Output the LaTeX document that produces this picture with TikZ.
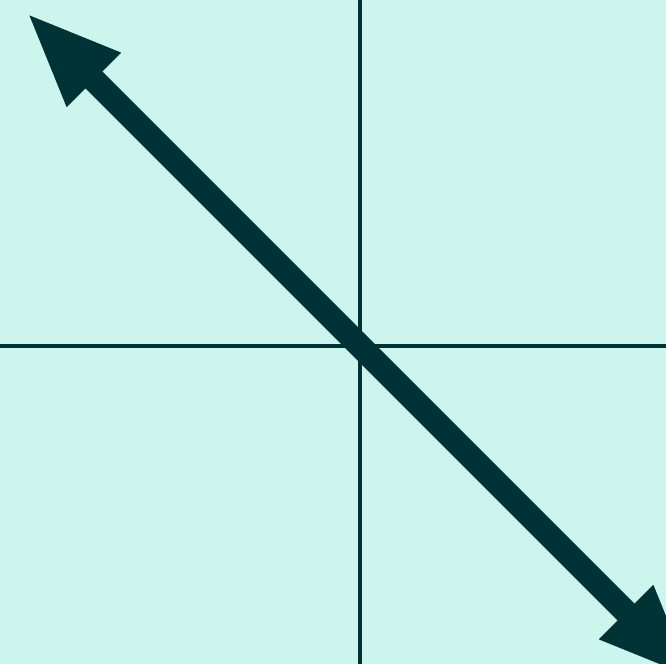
\documentclass[tikz,border=0pt]{standalone}
\usepackage{tikz}
\usetikzlibrary{arrows.meta}
\definecolor{MintBg}{RGB}{204,245,237}
\definecolor{DeepTeal}{RGB}{0,51,54}
\tikzset{
  axisline/.style = {DeepTeal, line width=0.1cm},
  diagline/.style = {DeepTeal, line width=0.6cm,
                     {Triangle[length=2.4cm,width=1.72cm]}-{Triangle[length=2.4cm,width=1.72cm]}}
}
\begin{document}
\begin{tikzpicture}[x=0.025cm,y=0.025cm]
\fill[MintBg] (-360,-318) rectangle (306,346);
\useasboundingbox (-360,-318) rectangle (306,346);
\coordinate (O) at (0,0);
\coordinate (top) at (0,346);
\coordinate (bottom) at (0,-318);
\coordinate (left) at (-360,0);
\coordinate (right) at (306,0);
\coordinate (tipA) at (-334,334);
\coordinate (tipB) at (334,-334);
\draw[axisline] (top) -- (bottom);
\draw[axisline] (left) -- (right);
\draw[diagline] (tipA) -- (tipB);
\end{tikzpicture}
\end{document}
